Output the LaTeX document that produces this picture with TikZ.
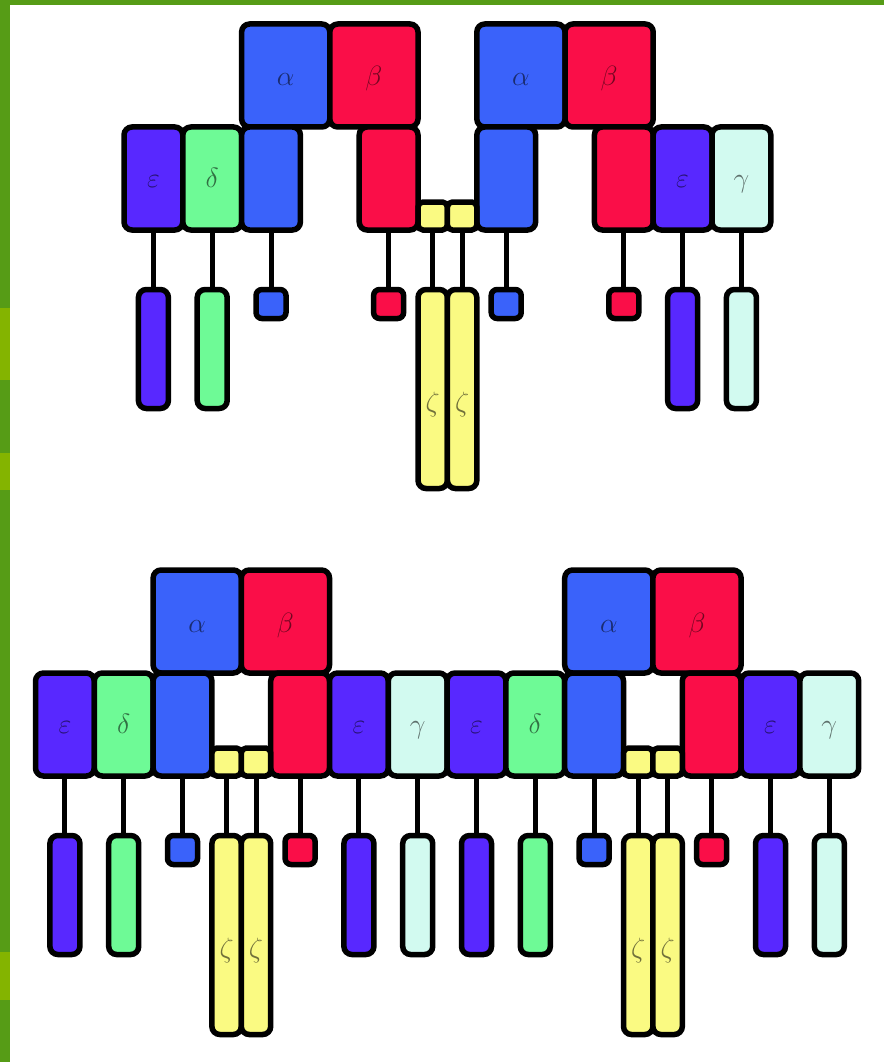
\documentclass[tikz,border=0pt]{standalone}
\definecolor{frameg}{RGB}{86,156,22}
\definecolor{frameL}{RGB}{132,180,0}
\definecolor{cA}{RGB}{58,98,250}
\definecolor{cB}{RGB}{250,14,72}
\definecolor{cE}{RGB}{88,40,255}
\definecolor{cD}{RGB}{110,250,150}
\definecolor{cG}{RGB}{210,250,240}
\definecolor{cZ}{RGB}{250,250,130}
\def\cellw{58.8}
% glyph set a little above \Huge
\newcommand\glyph[1]{\scalebox{1.12}{$#1$}}
\tikzset{
  box/.style={draw=black, line width=5.5pt, rounded corners=8pt, inner sep=0pt, outer sep=0pt},
  wide/.style={box, minimum width=88.2pt, minimum height=103pt},
  tall/.style={box, minimum width=58.8pt, minimum height=103pt},
  half/.style={box, minimum width=29.4pt, minimum height=28pt, rounded corners=5pt},
  bar/.style={box, minimum width=30pt, minimum height=119pt},
  tab/.style={box, minimum width=30pt, minimum height=29pt, rounded corners=6pt},
  zbar/.style={box, minimum width=29.4pt, minimum height=199pt},
  wire/.style={draw=black, line width=5pt},
  lbl/.style={inner sep=0pt, anchor=base, text=black, text opacity=0.55, font=\Huge},
}
\begin{document}
\begin{tikzpicture}[x=1pt, y=-1pt]
  % page and green frame
  \fill[white] (0,0) rectangle (884,1062);
  \useasboundingbox (0,0) rectangle (884,1062);
  \fill[frameg] (0,0) rectangle (10,1062);
  \fill[frameg] (0,0) rectangle (884,5);
  \fill[frameL] (0,308) rectangle (10,380);
  \fill[frameL] (0,453) rectangle (10,490);
  \fill[frameL] (0,952) rectangle (10,1000);

  % ---------- upper tree ----------
  \begin{scope}[shift={(124,0)}]
    \node[wide, fill=cA] (Ta1) at (2.75*\cellw,75.5) {};
    \node[wide, fill=cB] (Tb1) at (4.25*\cellw,75.5) {};
    \node[wide, fill=cA] (Ta2) at (6.75*\cellw,75.5) {};
    \node[wide, fill=cB] (Tb2) at (8.25*\cellw,75.5) {};
    \node[lbl] (Ta1t) at (2.75*\cellw,86) {\glyph{\alpha}};
    \node[lbl] (Tb1t) at (4.25*\cellw,86) {\glyph{\beta}};
    \node[lbl] (Ta2t) at (6.75*\cellw,86) {\glyph{\alpha}};
    \node[lbl] (Tb2t) at (8.25*\cellw,86) {\glyph{\beta}};
    \foreach \n/\k/\c/\kind in {e1/0.5/cE/bar, d1/1.5/cD/bar, p1/2.5/cA/tab,
        r1/4.5/cB/tab, p2/6.5/cA/tab, r2/8.5/cB/tab, e2/9.5/cE/bar, g1/10.5/cG/bar}{
      \node[tall, fill=\c] (T\n) at (\k*\cellw,178.5) {};
      \node[\kind, fill=\c, anchor=north] (TL\n) at (\k*\cellw,289.5) {};
      \draw[wire] (T\n.south) -- (TL\n.north);
    }
    \foreach \n/\k in {z1/5.25, z2/5.75}{
      \node[half, fill=cZ] (T\n) at (\k*\cellw,216) {};
      \node[zbar, fill=cZ, anchor=north] (TL\n) at (\k*\cellw,289.5) {};
      \draw[wire] (T\n.south) -- (TL\n.north);
      \node[lbl] (TL\n t) at (\k*\cellw,411) {\glyph{\zeta}};
    }
    \node[lbl] (Te1t) at (0.5*\cellw,187) {\glyph{\varepsilon}};
    \node[lbl] (Td1t) at (1.5*\cellw,187) {\glyph{\delta}};
    \node[lbl] (Te2t) at (9.5*\cellw,187) {\glyph{\varepsilon}};
    \node[lbl] (Tg1t) at (10.5*\cellw,187) {\glyph{\gamma}};
  \end{scope}

  % ---------- lower tree ----------
  \begin{scope}[shift={(35.5,546)}]
    \node[wide, fill=cA] (Ba1) at (2.75*\cellw,75.5) {};
    \node[wide, fill=cB] (Bb1) at (4.25*\cellw,75.5) {};
    \node[wide, fill=cA] (Ba2) at (9.75*\cellw,75.5) {};
    \node[wide, fill=cB] (Bb2) at (11.25*\cellw,75.5) {};
    \node[lbl] (Ba1t) at (2.75*\cellw,86) {\glyph{\alpha}};
    \node[lbl] (Bb1t) at (4.25*\cellw,86) {\glyph{\beta}};
    \node[lbl] (Ba2t) at (9.75*\cellw,86) {\glyph{\alpha}};
    \node[lbl] (Bb2t) at (11.25*\cellw,86) {\glyph{\beta}};
    \foreach \n/\k/\c/\kind in {e1/0.5/cE/bar, d1/1.5/cD/bar, p1/2.5/cA/tab,
        r1/4.5/cB/tab, e2/5.5/cE/bar, g1/6.5/cG/bar, e3/7.5/cE/bar, d2/8.5/cD/bar,
        p2/9.5/cA/tab, r2/11.5/cB/tab, e4/12.5/cE/bar, g2/13.5/cG/bar}{
      \node[tall, fill=\c] (B\n) at (\k*\cellw,178.5) {};
      \node[\kind, fill=\c, anchor=north] (BL\n) at (\k*\cellw,289.5) {};
      \draw[wire] (B\n.south) -- (BL\n.north);
    }
    \foreach \n/\k in {z1/3.25, z2/3.75, z3/10.25, z4/10.75}{
      \node[half, fill=cZ] (B\n) at (\k*\cellw,216) {};
      \node[zbar, fill=cZ, anchor=north] (BL\n) at (\k*\cellw,289.5) {};
      \draw[wire] (B\n.south) -- (BL\n.north);
      \node[lbl] (BL\n t) at (\k*\cellw,411) {\glyph{\zeta}};
    }
    \node[lbl] (Be1t) at (0.5*\cellw,187) {\glyph{\varepsilon}};
    \node[lbl] (Bd1t) at (1.5*\cellw,187) {\glyph{\delta}};
    \node[lbl] (Be2t) at (5.5*\cellw,187) {\glyph{\varepsilon}};
    \node[lbl] (Bg1t) at (6.5*\cellw,187) {\glyph{\gamma}};
    \node[lbl] (Be3t) at (7.5*\cellw,187) {\glyph{\varepsilon}};
    \node[lbl] (Bd2t) at (8.5*\cellw,187) {\glyph{\delta}};
    \node[lbl] (Be4t) at (12.5*\cellw,187) {\glyph{\varepsilon}};
    \node[lbl] (Bg2t) at (13.5*\cellw,187) {\glyph{\gamma}};
  \end{scope}
\end{tikzpicture}
\end{document}
